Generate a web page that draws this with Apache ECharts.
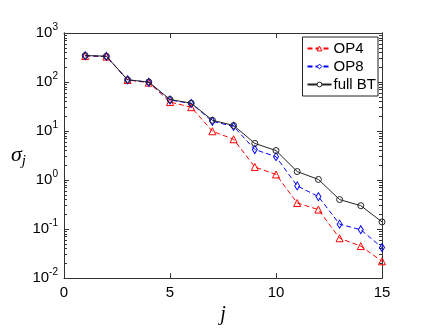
<!DOCTYPE html>
<html>
<head>
<meta charset="utf-8">
<script src="https://cdn.jsdelivr.net/npm/echarts@6/dist/echarts.min.js"></script>
<style>
  html, body { margin: 0; padding: 0; background: #fff; }
  #chart { width: 430px; height: 330px; }
</style>
</head>
<body>
<div id="chart"></div>
<script>
// singular values, j = 1..15
var j_vals = [1, 2, 3, 4, 5, 6, 7, 8, 9, 10, 11, 12, 13, 14, 15];
var op4    = [340, 330, 110, 97, 39, 30.7, 9.9, 6.8, 1.85, 1.30, 0.34, 0.25, 0.065, 0.045, 0.022];
var op8    = [345, 334, 111, 99, 43, 36.5, 15.8, 12.4, 4.2, 3.0, 0.76, 0.46, 0.126, 0.097, 0.042];
var fullBT = [347, 336, 111, 100, 44, 37, 16.6, 13, 5.6, 4.0, 1.49, 1.03, 0.40, 0.30, 0.14];
var x_ticks = [0, 5, 10, 15];
var exponentes = [-2, -1, 0, 1, 2];
var multiplos = [2, 3, 4, 5, 6, 7, 8, 9];

var color_rojo = '#ff0000';
var color_azul = '#0000ff';
var color_negro = '#222222';
var fuente = 'Liberation Sans, Arial, sans-serif';

function pares(ys) {
    return j_vals.map(function(x, i) { return [x, ys[i]]; });
}

// marcas menores del eje log (2..9 en cada decada), en espacio de exponente
var menores = [];
exponentes.forEach(function(e) {
    multiplos.forEach(function(m) { menores.push(e + Math.log10(m)); });
});

var chart = echarts.init(document.getElementById('chart'));

var ejeBase = {
    axisLine: { show: true, onZero: false, lineStyle: { color: '#333', width: 1 } },
    axisTick: { show: true, inside: true, length: 5, lineStyle: { color: '#333' } },
    splitLine: { show: false }
};

function ejeMenor(pos) {
    return {
        type: 'value', position: pos, offset: 0,
        min: -2, max: 3,
        axisLine: { show: true, onZero: false, lineStyle: { color: '#333', width: 1 } },
        axisLabel: { show: false },
        splitLine: { show: false },
        axisTick: { show: true, inside: true, length: 3, customValues: menores, lineStyle: { color: '#333' } }
    };
}

// serie con marcador hueco
function serie(nombre, datos, simbolo, tam, color, tipo, z) {
    return {
        name: nombre,
        type: 'line',
        data: pares(datos),
        symbol: simbolo,
        symbolSize: tam,
        showAllSymbol: true,
        itemStyle: { color: 'rgba(255,255,255,0)', borderColor: color, borderWidth: 1 },
        lineStyle: { color: color, width: 1, type: tipo },
        z: z
    };
}

option = {
    animation: false,
    textStyle: { fontFamily: fuente },
    grid: { left: 64, right: 48, top: 33, bottom: 47 },
    legend: {
        right: 52,
        top: 37,
        orient: 'vertical',
        itemGap: 3,
        itemWidth: 24,
        itemHeight: 6,
        padding: [4, 2, 4, 4],
        borderColor: '#222',
        borderWidth: 1,
        backgroundColor: '#fff',
        itemStyle: { color: '#fff', borderWidth: 1 },
        textStyle: { fontSize: 15, color: '#000', fontFamily: fuente, padding: [0, 0, 0, -3] },
        data: ['OP4', 'OP8', 'full BT']
    },
    xAxis: [
        Object.assign({}, ejeBase, {
            type: 'value',
            min: 0, max: 15, interval: 5,
            name: 'j',
            nameLocation: 'middle',
            nameGap: 24,
            nameTextStyle: { fontSize: 20, fontStyle: 'italic', fontFamily: 'Liberation Serif, serif', color: '#000' },
            axisLabel: {
                fontSize: 15, color: '#000', margin: 7,
                formatter: function(v) { return x_ticks.indexOf(v) >= 0 ? String(v) : ''; }
            }
        }),
        Object.assign({}, ejeBase, {
            type: 'value', position: 'top',
            min: 0, max: 15, interval: 5,
            axisLabel: { show: false }
        })
    ],
    yAxis: [
        Object.assign({}, ejeBase, {
            type: 'log',
            logBase: 10,
            min: 0.01, max: 1000,
            name: '{s|σ}{j|j}',
            nameLocation: 'middle',
            nameRotate: 0,
            nameGap: 38,
            nameTextStyle: {
                rich: {
                    s: { fontSize: 22, fontStyle: 'italic', fontFamily: 'Liberation Serif, serif', color: '#000' },
                    j: { fontSize: 15, fontStyle: 'italic', fontFamily: 'Liberation Serif, serif', color: '#000', padding: [12, 0, 0, 0] }
                }
            },
            axisLabel: {
                color: '#000',
                margin: 6,
                formatter: function(v) {
                    var e = Math.round(Math.log10(v));
                    return '{b|10}{e|' + e + '}';
                },
                rich: {
                    b: { fontSize: 15, color: '#000', fontFamily: fuente },
                    e: { fontSize: 10, color: '#000', fontFamily: fuente, padding: [0, 0, 12, 0] }
                }
            }
        }),
        Object.assign({}, ejeBase, {
            type: 'log', position: 'right',
            min: 0.01, max: 1000,
            axisLabel: { show: false }
        }),
        ejeMenor('left'),
        ejeMenor('right')
    ],
    series: [
        serie('OP4', op4, 'triangle', 7, color_rojo, [5, 3], 2),
        serie('OP8', op8, 'diamond', [5, 8], color_azul, [5, 3], 3),
        serie('full BT', fullBT, 'circle', 6, color_negro, 'solid', 4)
    ]
};

chart.setOption(option);
</script>
</body>
</html>
